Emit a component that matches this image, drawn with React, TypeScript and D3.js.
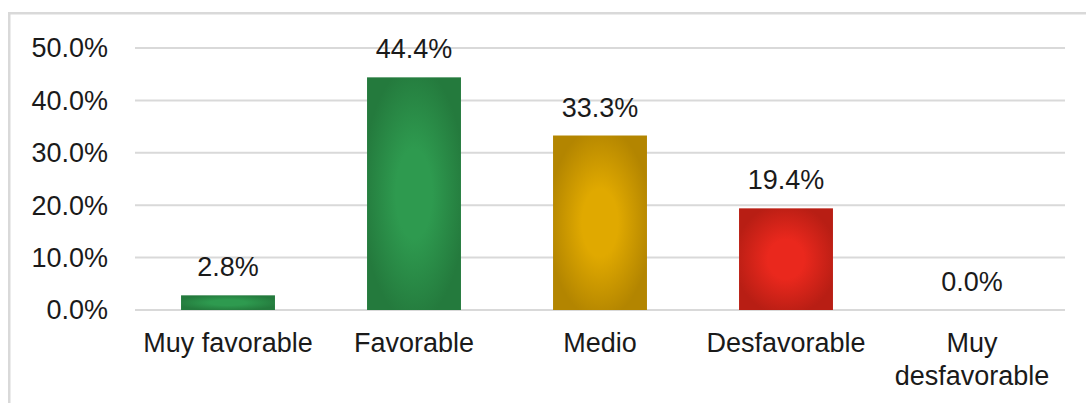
import React, { useEffect, useRef } from "react";
import * as d3 from "d3";

const categories = ["Muy favorable", "Favorable", "Medio", "Desfavorable", "Muy desfavorable"];
const values = [2.8, 44.4, 33.3, 19.4, 0.0];
const yTicks = [0, 10, 20, 30, 40, 50];
// [edge, center] colours for the path-style gradient of each bar
const barColors = [
  ["#247a3d", "#2e9a4f"],
  ["#247a3d", "#2e9a4f"],
  ["#b38500", "#e0a900"],
  ["#b81e14", "#ea281d"],
  ["#b81e14", "#ea281d"],
];

const W = 1086;
const H = 403;

export default function App() {
  const ref = useRef<SVGSVGElement | null>(null);

  useEffect(() => {
    if (!ref.current) return;
    const svg = d3.select(ref.current);
    svg.selectAll("*").remove();

    const font = "'Liberation Sans', Arial, sans-serif";
    const fontSize = 27;

    const plot = { left: 135, right: 1065, top: 48, bottom: 310 };

    const x = d3
      .scaleBand()
      .domain(categories)
      .range([plot.left, plot.right])
      .paddingInner(0.495)
      .paddingOuter(0.2475);

    const y = d3.scaleLinear().domain([0, 50]).range([plot.bottom, plot.top]);

    // chart area border
    svg
      .append("rect")
      .attr("x", 9.25)
      .attr("y", 13.25)
      .attr("width", W + 20)
      .attr("height", H + 20)
      .attr("fill", "#fff")
      .attr("stroke", "#d9d9d9")
      .attr("stroke-width", 2.5);

    const defs = svg.append("defs");
    barColors.forEach((c, i) => {
      const g = defs
        .append("radialGradient")
        .attr("id", `grad${i}`)
        .attr("cx", 0.5)
        .attr("cy", 0.5)
        .attr("r", 0.55);
      g.append("stop").attr("offset", "0%").attr("stop-color", c[1]);
      g.append("stop").attr("offset", "35%").attr("stop-color", c[1]);
      g.append("stop").attr("offset", "100%").attr("stop-color", c[0]);
    });

    // grid lines
    svg
      .append("g")
      .selectAll("line")
      .data(yTicks)
      .enter()
      .append("line")
      .attr("x1", plot.left)
      .attr("x2", plot.right)
      .attr("y1", (d) => y(d))
      .attr("y2", (d) => y(d))
      .attr("stroke", "#d9d9d9")
      .attr("stroke-width", 2);

    // y axis labels
    svg
      .append("g")
      .selectAll("text")
      .data(yTicks)
      .enter()
      .append("text")
      .attr("x", 108)
      .attr("y", (d) => y(d))
      .attr("dy", "0.35em")
      .attr("text-anchor", "end")
      .attr("font-family", font)
      .attr("font-size", fontSize)
      .attr("fill", "#1a1a1a")
      .text((d) => d.toFixed(1) + "%");

    // bars
    svg
      .append("g")
      .selectAll("rect")
      .data(values)
      .enter()
      .append("rect")
      .attr("x", (d, i) => x(categories[i])!)
      .attr("y", (d) => y(d))
      .attr("width", x.bandwidth())
      .attr("height", (d) => y(0) - y(d))
      .attr("fill", (d, i) => `url(#grad${i})`);

    // value labels
    svg
      .append("g")
      .selectAll("text")
      .data(values)
      .enter()
      .append("text")
      .attr("x", (d, i) => x(categories[i])! + x.bandwidth() / 2)
      .attr("y", (d) => y(d) - 19)
      .attr("text-anchor", "middle")
      .attr("font-family", font)
      .attr("font-size", fontSize)
      .attr("fill", "#1a1a1a")
      .text((d) => d.toFixed(1) + "%");

    // category labels
    const cat = svg
      .append("g")
      .selectAll("text")
      .data(categories)
      .enter()
      .append("text")
      .attr("x", (d) => x(d)! + x.bandwidth() / 2)
      .attr("y", 352)
      .attr("text-anchor", "middle")
      .attr("font-family", font)
      .attr("font-size", fontSize)
      .attr("fill", "#1a1a1a");

    cat.each(function (d) {
      const t = d3.select(this);
      const cx = x(d)! + x.bandwidth() / 2;
      const lines = d.length > 14 ? d.split(" ") : [d];
      lines.forEach((ln, k) => {
        t.append("tspan")
          .attr("x", cx)
          .attr("dy", k === 0 ? 0 : 33)
          .text(ln);
      });
    });
  }, []);

  return (
    <svg
      ref={ref}
      width={W}
      height={H}
      style={{ position: "absolute", left: 0, top: 0, background: "#fff" }}
    />
  );
}
